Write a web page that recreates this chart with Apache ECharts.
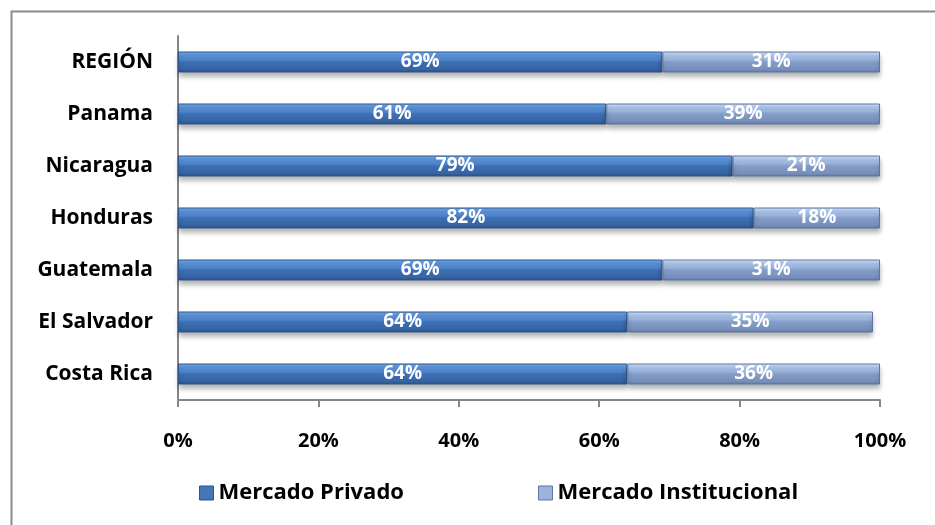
<!DOCTYPE html>
<html>
<head>
<meta charset="utf-8">
<script src="https://cdn.jsdelivr.net/npm/echarts@6/dist/echarts.min.js"></script>
<style>html,body{margin:0;padding:0;background:#fff}#c{width:935px;height:525px}</style>
</head>
<body>
<div id="c"></div>
<script>
var categories = ['Costa Rica', 'El Salvador', 'Guatemala', 'Honduras', 'Nicaragua', 'Panama', 'REGIÓN'];
var privado = [64, 64, 69, 82, 79, 61, 69];
var institucional = [36, 35, 31, 18, 21, 39, 31];
var xTicks = [0, 20, 40, 60, 80, 100];

var FONT = '"Open Sans", "DejaVu Sans", sans-serif';
var chart = echarts.init(document.getElementById('c'));

function grad(stops) {
  return new echarts.graphic.LinearGradient(0, 0, 0, 1, stops.map(function (s) { return {offset: s[0], color: s[1]}; }));
}
var labelStyle = {show: true, position: 'inside', color: '#fff', fontFamily: FONT, fontWeight: 'bold', fontSize: 19,
  formatter: function (p) { return p.value + '%'; }};

chart.setOption({
  animation: false,
  graphic: [{type: 'rect', left: 9, top: 9, shape: {width: 940, height: 540}, style: {fill: 'none', stroke: '#8a8a8a', lineWidth: 2}, silent: true}],
  grid: {left: 178, right: 55, top: 36, bottom: 125},
  legend: {
    bottom: 16, left: 194, itemWidth: 14, itemHeight: 14, itemGap: 134, icon: 'rect',
    textStyle: {fontFamily: FONT, fontWeight: 'bold', fontSize: 22, color: '#000'},
    data: [
      {name: 'Mercado Privado', itemStyle: {color: '#4576b8', borderColor: '#2d5588', borderWidth: 1}},
      {name: 'Mercado Institucional', itemStyle: {color: '#9db3d9', borderColor: '#5d74a0', borderWidth: 1}}
    ]
  },
  xAxis: {
    type: 'value', min: xTicks[0], max: xTicks[xTicks.length - 1], interval: 20,
    axisLine: {show: true, lineStyle: {color: '#868686', width: 2}},
    axisTick: {show: true, length: 7, lineStyle: {color: '#868686', width: 2}},
    splitLine: {show: false},
    axisLabel: {formatter: '{value}%', color: '#000', fontFamily: FONT, fontWeight: 'bold', fontSize: 20, margin: 31}
  },
  yAxis: {
    type: 'category', data: categories,
    axisLine: {show: true, lineStyle: {color: '#868686', width: 2}},
    axisTick: {show: false},
    axisLabel: {color: '#000', fontFamily: FONT, fontWeight: 'bold', fontSize: 21, margin: 25}
  },
  series: [{
    name: 'Mercado Privado', type: 'bar', stack: 's', data: privado, barWidth: 21,
    itemStyle: {color: grad([[0, '#7cb0ee'], [0.12, '#6399e0'], [0.4, '#4f86d0'], [0.5, '#3c70b6'], [0.85, '#3763a2'], [1, '#2b5288']]),
      borderColor: '#2d5588', borderWidth: 1,
      shadowColor: 'rgba(0,0,0,0.3)', shadowBlur: 5, shadowOffsetY: 4},
    label: labelStyle
  }, {
    name: 'Mercado Institucional', type: 'bar', stack: 's', data: institucional, barWidth: 21,
    itemStyle: {color: grad([[0, '#d2e3fa'], [0.15, '#b3cbee'], [0.4, '#9ab4df'], [0.5, '#839dc8'], [0.85, '#7790bb'], [1, '#617aa3']]),
      borderColor: '#5d74a0', borderWidth: 1,
      shadowColor: 'rgba(0,0,0,0.3)', shadowBlur: 5, shadowOffsetY: 4},
    label: labelStyle
  }]
});
</script>
</body>
</html>
